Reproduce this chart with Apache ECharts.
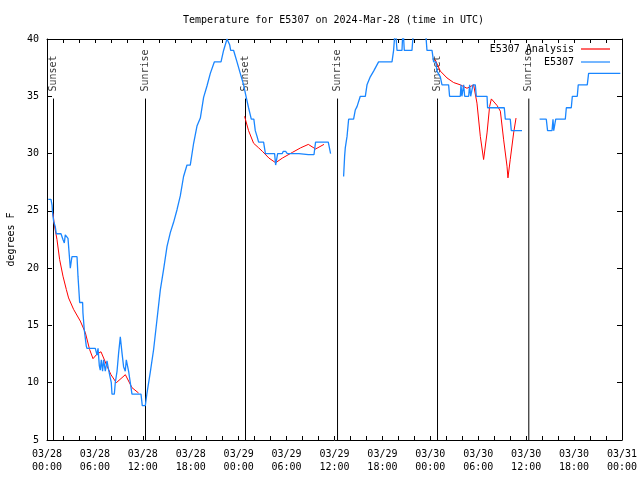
<!DOCTYPE html>
<html>
<head>
<meta charset="utf-8">
<script src="https://cdn.jsdelivr.net/npm/echarts@6/dist/echarts.min.js"></script>
<style>html,body{margin:0;padding:0;background:#fff;}#c{width:640px;height:480px;}</style>
</head>
<body>
<div id="c"></div>
<script>
// Hours since 2024-03-28 00:00 UTC; null = gap
var obsHours = [0.16,0.5,0.63,0.7,0.83,1.04,1.16,1.75,2.0,2.17,2.29,2.5,2.63,2.75,2.92,3.04,3.13,3.76,3.88,4.09,4.46,4.5,4.67,4.92,5.0,6.05,6.26,6.39,6.55,6.67,6.8,6.96,7.09,7.3,7.51,7.72,7.93,8.05,8.14,8.43,8.55,8.77,8.97,9.18,9.39,9.59,9.8,9.93,10.1,10.22,10.43,10.64,11.77,11.93,12.31,
  12.52,12.93,13.35,13.77,14.19,14.6,15.03,15.44,15.85,16.28,16.69,17.1,17.53,17.94,18.36,18.78,19.2,19.61,20.03,20.45,20.95,21.79,22.11,22.54,22.87,23.0,23.37,23.79,24.2,24.4,24.62,24.92,25.24,25.58,25.9,26.08,26.3,26.5,27.12,27.35,28.5,28.63,28.75,28.88,29.46,29.59,29.88,30.09,31.55,32.72,33.43,33.63,35.22,35.51,null,
  37.14,37.27,37.35,37.57,37.77,38.39,38.6,38.82,39.23,39.86,40.07,40.48,40.9,41.52,43.2,43.4,43.61,43.83,44.45,44.58,44.74,45.7,45.87,46.33,47.37,47.58,48.21,48.41,48.7,48.83,49.25,49.46,50.29,50.41,51.75,51.84,51.95,52.17,52.3,52.8,52.92,53.05,53.2,53.34,53.63,53.76,55.1,55.17,57.26,57.39,58.01,58.14,59.48,null,
  61.68,62.52,62.68,63.24,63.36,63.45,63.6,63.7,64.9,65.03,65.65,65.78,66.4,66.52,67.65,67.82,71.79];
var obsTemps = [26,26,25.5,24.8,24.1,23.6,23,23,22.5,22.2,22.9,23,22.6,21.5,20,20.6,21,21,19.3,17,17,16.1,14.6,13.2,13,13,12.4,13,11.5,11.1,12,11,12,11,11.9,11.1,10.4,10,9,9,10,11,12.6,14,12.6,11.4,11,12,11.9,11,10,9,9,8,8,
  9.1,10.9,12.9,15.5,18.1,19.9,21.9,23.1,24,25.1,26.3,28,29,29,30.9,32.4,33.1,34.9,35.9,37,38,38,39,40,39.5,39,39,38,37,37,36,35,34,33,33,32,31.5,31,31,30,30,29,29,30,30,30.2,30.2,30,30,29.9,29.9,31,31,30,null,
  28,29.8,30.5,31.5,33,33,33.8,34.1,35,35,36,36.7,37.2,38,38,39,41,39,39,41,39,39,40.5,41,41,39,39,38,38,37.2,36.7,36,36,35,35,36,35,36,35,35,36,35,35,36,36,35,35,34,34,33,33,32,32,null,
  33,33,32,32,33,32,32,33,33,34,34,35,35,36,36,37,37];

var anaHours = [0.75,0.91,1.25,1.58,2.0,2.42,2.7,3.33,4.17,4.8,5.33,5.76,6.26,6.76,7.51,8.01,8.68,9.81,10.64,11.47,null,
  24.74,25.24,25.87,26.5,26.96,27.8,28.63,29.46,30.72,31.76,32.72,33.63,34.68,null,
  48.6,49.25,50.09,50.91,51.75,52.59,53.42,53.84,54.26,54.67,55.1,55.42,55.64,56.35,56.77,57.18,57.6,57.72,58.01,58.43,58.73];
var anaTemps = [24.8,23.8,22.5,20.76,19.3,18.14,17.4,16.4,15.38,14.37,12.91,12.1,12.5,12.7,11.46,10.7,10.0,10.7,9.57,9.1,null,
  33.25,32.0,30.9,30.5,30.2,29.6,29.2,29.6,30.1,30.5,30.8,30.4,30.8,null,
  38.2,37.2,36.6,36.2,36.0,35.7,36.0,34.4,31.5,29.48,31.8,34.1,34.77,34.2,33.7,31.2,28.9,27.88,29.5,31.8,33.1];

var sunHours = [0.814,12.334,24.856,36.38,48.9,60.33];
var sunLabels = ['Sunset','Sunrise','Sunset','Sunrise','Sunset','Sunrise'];
var sunTop = 34.8;

var xTickHours = [0,6,12,18,24,30,36,42,48,54,60,66,72];
var xTickLabels = ['03/28\n00:00','03/28\n06:00','03/28\n12:00','03/28\n18:00','03/29\n00:00','03/29\n06:00','03/29\n12:00','03/29\n18:00','03/30\n00:00','03/30\n06:00','03/30\n12:00','03/30\n18:00','03/31\n00:00'];

function zip(xs, ys) {
  return xs.map(function (x, i) { return x === null ? [null, null] : [x, ys[i]]; });
}
var sunLineData = [];
sunHours.forEach(function (h) { sunLineData.push([h, sunTop]); sunLineData.push([h, 5]); sunLineData.push([null, null]); });
var sunLabelData = sunHours.map(function (h, i) { return { value: [h, sunTop], name: sunLabels[i] }; });

var FONT = 'DejaVu Sans Mono';
var chart = echarts.init(document.getElementById('c'), null, { renderer: 'canvas' });
chart.setOption({
  animation: false,
  backgroundColor: '#ffffff',
  title: {
    text: 'Temperature for E5307 on 2024-Mar-28 (time in UTC)',
    left: 183, top: 15, padding: 0,
    textStyle: { fontFamily: FONT, fontSize: 10, fontWeight: 'normal', color: '#000' }
  },
  legend: {
    data: ['E5307 Analysis', 'E5307'],
    orient: 'vertical', align: 'right', icon: 'rect',
    right: 30, top: 44, padding: 0,
    itemWidth: 29, itemHeight: 1.2, itemGap: 3,
    textStyle: { fontFamily: FONT, fontSize: 10, color: '#000', lineHeight: 10, padding: [0, 2, 0, 0] }
  },
  grid: { left: 47, right: 18, top: 39, bottom: 40, containLabel: false, outerBoundsMode: 'none' },
  xAxis: [{
    type: 'value', min: 0, max: 72, interval: 2, position: 'bottom',
    axisLine: { show: true, onZero: false, lineStyle: { color: '#000', width: 1 } },
    axisTick: { show: true, inside: true, length: 4, lineStyle: { color: '#000' } },
    axisLabel: {
      show: true, margin: 8, fontFamily: FONT, fontSize: 10, color: '#000', lineHeight: 13,
      formatter: function (v) { var i = xTickHours.indexOf(v); return i >= 0 ? xTickLabels[i] : ''; }
    },
    splitLine: { show: false }
  }, {
    type: 'value', min: 0, max: 72, interval: 2, position: 'top',
    axisLine: { show: true, onZero: false, lineStyle: { color: '#000', width: 1 } },
    axisTick: { show: true, inside: true, length: 4, lineStyle: { color: '#000' } },
    axisLabel: { show: false }, splitLine: { show: false }
  }],
  yAxis: [{
    type: 'value', min: 5, max: 40, interval: 5, position: 'left',
    name: 'degrees F', nameLocation: 'middle', nameRotate: 90, nameGap: 31,
    nameTextStyle: { fontFamily: FONT, fontSize: 10, color: '#000' },
    axisLine: { show: true, onZero: false, lineStyle: { color: '#000', width: 1 } },
    axisTick: { show: true, inside: true, length: 5, lineStyle: { color: '#000' } },
    axisLabel: { show: true, margin: 8, fontFamily: FONT, fontSize: 10, color: '#000' },
    splitLine: { show: false }
  }, {
    type: 'value', min: 5, max: 40, interval: 5, position: 'right',
    axisLine: { show: true, onZero: false, lineStyle: { color: '#000', width: 1 } },
    axisTick: { show: true, inside: true, length: 5, lineStyle: { color: '#000' } },
    axisLabel: { show: false }, splitLine: { show: false }
  }],
  series: [{
    name: 'sunlines', type: 'line', silent: true, symbol: 'none', connectNulls: false,
    data: sunLineData, lineStyle: { color: '#000', width: 1 }, z: 1
  }, {
    name: 'sunlabels', type: 'scatter', silent: true, symbolSize: 0,
    data: sunLabelData, z: 1,
    label: {
      show: true, position: 'top', distance: 6, rotate: 90, align: 'left', verticalAlign: 'middle',
      offset: [1, 0],
      formatter: function (p) { return p.name; },
      fontFamily: FONT, fontSize: 10, color: '#000'
    }
  }, {
    name: 'E5307 Analysis', type: 'line', symbol: 'none', connectNulls: false,
    data: zip(anaHours, anaTemps), color: '#ff0000',
    lineStyle: { color: '#ff0000', width: 1 }, z: 2
  }, {
    name: 'E5307', type: 'line', symbol: 'none', connectNulls: false,
    data: zip(obsHours, obsTemps), color: '#1a86ff',
    lineStyle: { color: '#1a86ff', width: 1.3 }, z: 3
  }]
});
</script>
</body>
</html>
